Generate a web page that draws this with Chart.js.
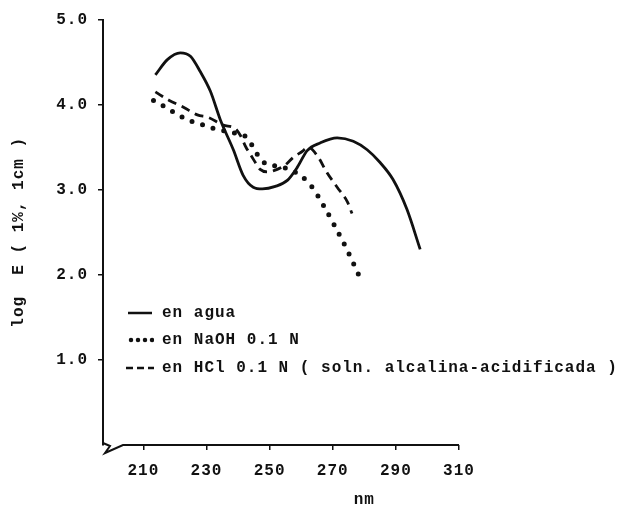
<!DOCTYPE html>
<html>
<head>
<meta charset="utf-8">
<script src="https://cdn.jsdelivr.net/npm/chart.js@4.4.1/dist/chart.umd.min.js"></script>
<style>
  html, body { margin: 0; padding: 0; background: #fff; }
  #wrap { position: relative; width: 634px; height: 508px; }
  .key { position: absolute; left: 126px; height: 18px; line-height: 18px;
         font: bold 16px "Liberation Mono", monospace; letter-spacing: 1px; color: #111;
         display: flex; align-items: center; white-space: nowrap; }
  .key svg { margin-right: 8px; }
</style>
</head>
<body>
<div id="wrap">
  <canvas id="spectra"></canvas>
  <div class="key" style="top:304px">
    <svg width="28" height="6"><line x1="2" y1="3" x2="26" y2="3" stroke="#111" stroke-width="2.5"/></svg>en agua
  </div>
  <div class="key" style="top:331px">
    <svg width="28" height="6"><line x1="5" y1="3" x2="27" y2="3" stroke="#111" stroke-width="4.5" stroke-linecap="round" stroke-dasharray="0 7"/></svg>en NaOH 0.1 N
  </div>
  <div class="key" style="top:359px">
    <svg width="28" height="6"><line x1="0" y1="3" x2="28" y2="3" stroke="#111" stroke-width="2.5" stroke-dasharray="7 4"/></svg>en HCl 0.1 N ( soln. alcalina-acidificada )
  </div>
</div>
<script>
// wavelengths (nm) and log E values
const aguaX = [213.8, 217.6, 221.7, 224.9, 228.0, 231.2, 234.4, 238.5, 241.6, 244.8, 247.7, 251.8, 255.6, 258.7, 261.9, 266.0, 271.4, 276.5, 280.9, 285.0, 289.1, 293.5, 297.7];
const aguaY = [4.35, 4.53, 4.61, 4.57, 4.39, 4.16, 3.82, 3.47, 3.17, 3.03, 3.01, 3.04, 3.11, 3.26, 3.46, 3.55, 3.61, 3.57, 3.47, 3.32, 3.12, 2.77, 2.30];

const naohX = [213.2, 217.0, 221.4, 225.5, 229.0, 232.2, 236.0, 239.5, 242.9, 244.8, 247.3, 250.2, 252.7, 256.0, 259.7, 263.5, 267.0, 270.4, 274.2, 278.2];
const naohY = [4.05, 3.97, 3.87, 3.80, 3.76, 3.72, 3.69, 3.66, 3.61, 3.50, 3.35, 3.29, 3.28, 3.24, 3.17, 3.03, 2.82, 2.59, 2.32, 2.00];

const hclX = [213.8, 218.2, 222.7, 227.1, 230.6, 235.3, 239.1, 240.7, 242.5, 244.5, 247.0, 249.6, 252.4, 254.9, 257.5, 260.3, 262.2, 265.1, 268.2, 271.4, 274.6, 276.1];
const hclY = [4.15, 4.05, 3.97, 3.88, 3.85, 3.76, 3.72, 3.64, 3.50, 3.38, 3.24, 3.21, 3.24, 3.29, 3.38, 3.45, 3.50, 3.40, 3.20, 3.03, 2.86, 2.72];

const xTicks = [210, 230, 250, 270, 290, 310];
const yTicks = [1, 2, 3, 4, 5];
const yTitle = 'log  E ( 1%, 1cm )';
const xTitle = 'nm';

const ink = '#111';
const monoFont = { family: '"Liberation Mono", monospace', size: 16, weight: 'bold' };

function pts(xs, ys) {
  return xs.map((x, i) => ({ x: x, y: ys[i] }));
}

// axis break at the corner, the x axis line and the "nm" label
const axisExtras = {
  id: 'axisExtras',
  beforeDraw(chart) {
    chart.ctx.letterSpacing = '1px';
  },
  afterDraw(chart) {
    const { ctx, chartArea: a, scales } = chart;
    ctx.save();
    ctx.strokeStyle = ink;
    ctx.lineWidth = 2;
    ctx.beginPath();
    ctx.moveTo(a.left, a.bottom - 2);
    ctx.lineTo(a.left + 7, a.bottom + 1);
    ctx.lineTo(a.left + 2, a.bottom + 8);
    ctx.lineTo(a.left + 20, a.bottom);
    ctx.lineTo(a.right, a.bottom);
    ctx.stroke();
    ctx.font = 'bold 16px "Liberation Mono", monospace';
    ctx.fillStyle = ink;
    ctx.textAlign = 'center';
    ctx.textBaseline = 'middle';
    ctx.fillText(xTitle, scales.x.getPixelForValue(280), 500);
    ctx.restore();
  }
};

const canvas = document.querySelector('#spectra');

const config = {
  type: 'line',
  data: {
    datasets: [
      {
        label: 'en agua',
        data: pts(aguaX, aguaY),
        borderColor: ink,
        borderWidth: 2.8,
        cubicInterpolationMode: 'monotone',
        pointRadius: 0,
        fill: false
      },
      {
        label: 'en NaOH 0.1 N',
        data: pts(naohX, naohY),
        borderColor: ink,
        borderWidth: 5,
        borderDash: [0, 11],
        borderCapStyle: 'round',
        cubicInterpolationMode: 'monotone',
        pointRadius: 0,
        fill: false
      },
      {
        label: 'en HCl 0.1 N ( soln. alcalina-acidificada )',
        data: pts(hclX, hclY),
        borderColor: ink,
        borderWidth: 2.8,
        borderDash: [9, 6],
        cubicInterpolationMode: 'monotone',
        pointRadius: 0,
        fill: false
      }
    ]
  },
  options: {
    responsive: true,
    maintainAspectRatio: false,
    animation: false,
    layout: { padding: { top: 13, right: 175, bottom: 0, left: 0 } },
    plugins: { legend: { display: false }, tooltip: { enabled: false } },
    scales: {
      x: {
        type: 'linear',
        min: 197.2,
        max: 310,
        afterBuildTicks: s => { s.ticks = xTicks.map(v => ({ value: v })); },
        afterFit: s => { s.height = 63; },
        border: { display: false },
        grid: { drawOnChartArea: false, drawTicks: true, tickLength: 5, color: ink, lineWidth: 1.5 },
        ticks: { color: ink, font: monoFont, padding: 11, maxRotation: 0 }
      },
      y: {
        type: 'linear',
        min: 0,
        max: 5,
        afterBuildTicks: s => { s.ticks = yTicks.map(v => ({ value: v })); },
        afterFit: s => { s.width = 103; },
        border: { display: true, color: ink, width: 2 },
        grid: { drawOnChartArea: false, drawTicks: true, tickLength: 5, color: ink, lineWidth: 1.5 },
        ticks: { color: ink, font: monoFont, padding: 10, callback: v => v.toFixed(1) },
        title: { display: true, text: yTitle, color: ink, font: monoFont, padding: { top: 9, bottom: 0 } }
      }
    }
  },
  plugins: [axisExtras]
};

const spectraChart = new Chart(canvas, config);
</script>
</body>
</html>
